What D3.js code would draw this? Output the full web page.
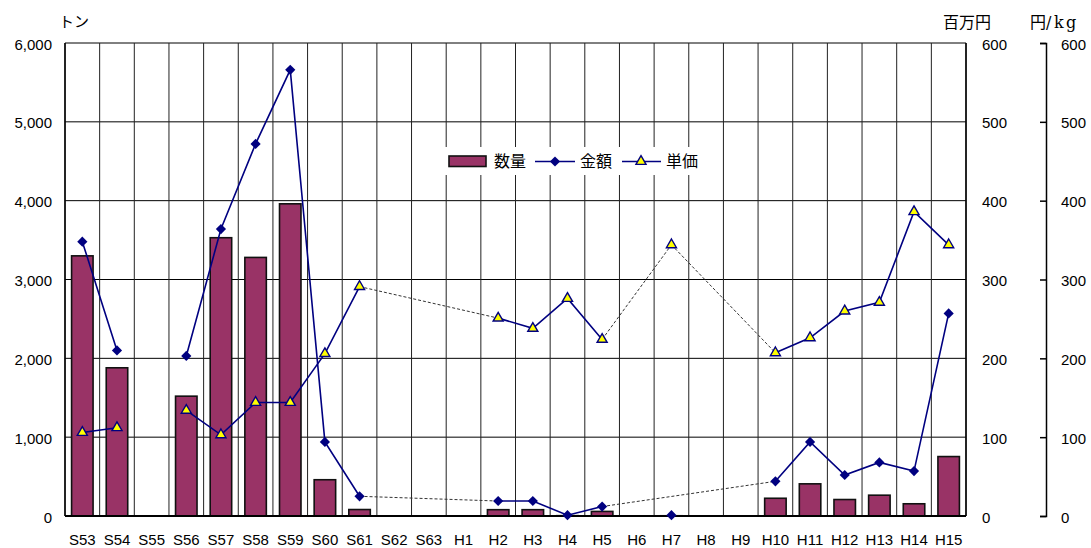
<!DOCTYPE html>
<html lang="ja">
<head>
<meta charset="utf-8">
<script src="https://cdn.jsdelivr.net/npm/d3@7"></script>
<style>
  html, body { margin: 0; padding: 0; background: #fff; }
  svg { display: block; }
  .num { font-family: "Liberation Sans", Arial, sans-serif; font-size: 15px; fill: #000; }
  .jp { font-family: "Noto Sans CJK JP", sans-serif; fill: #000; }
</style>
</head>
<body>
<svg id="chart" width="1091" height="548"></svg>
<script>
// 年度（昭和53年〜平成15年）
const categories = ["S53","S54","S55","S56","S57","S58","S59","S60","S61","S62","S63",
  "H1","H2","H3","H4","H5","H6","H7","H8","H9","H10","H11","H12","H13","H14","H15"];

// 数量（トン）
const quantity = [3300,1880,null,1520,3530,3280,3960,460,82,null,null,
  null,80,80,4,58,null,3,null,null,225,408,209,264,155,754];

// 金額（百万円）
const amount = [348,210,null,203,364,472,566,94,25,null,null,
  null,19,19,1,12,null,1,null,null,44,94,52,68,57,257];

// 単価（円/kg）
const price = [106,112,null,134,103,144,144,206,291,null,null,
  null,251,238,276,224,null,344,null,null,207,226,260,271,386,344];

// 欠測年をまたぐ破線の区間
const amountBridges = [["S61","H2"],["H5","H10"]];
const priceBridges = [["S61","H2"],["H5","H7"],["H7","H10"]];

const leftTicks = [0,1000,2000,3000,4000,5000,6000];
const rightTicks = [0,100,200,300,400,500,600];

const svg = d3.select("#chart");
const L = 65, R = 966, T = 43, B = 516;

const x = d3.scaleBand().domain(categories).range([L, R]).paddingInner(0).paddingOuter(0);
const yQ = d3.scaleLinear().domain([0, 6000]).range([B, T]);
const yY = d3.scaleLinear().domain([0, 600]).range([B, T]);
const cx = c => x(c) + x.bandwidth() / 2;

const navy = "#000080";

// 格子線
const grid = svg.append("g");
grid.selectAll("line.h").data(leftTicks).join("line")
  .attr("x1", L).attr("x2", R)
  .attr("y1", d => yQ(d)).attr("y2", d => yQ(d))
  .attr("stroke", "#000").attr("stroke-width", 1);
grid.selectAll("line.v").data(categories.concat([null])).join("line")
  .attr("x1", (d, i) => L + i * x.bandwidth()).attr("x2", (d, i) => L + i * x.bandwidth())
  .attr("y1", T).attr("y2", B)
  .attr("stroke", "#222").attr("stroke-width", 1);

// 凡例の背景
const legend = svg.append("g");
legend.append("rect").attr("x", 444).attr("y", 147).attr("width", 261).attr("height", 28).attr("fill", "#fff");

// 数量の棒
const bw = x.bandwidth() * 0.62;
const qData = categories.map((c, i) => ({ c, v: quantity[i] })).filter(d => d.v != null);
svg.append("g").selectAll("rect").data(qData).join("rect")
  .attr("x", d => cx(d.c) - bw / 2)
  .attr("width", bw)
  .attr("y", d => yQ(d.v))
  .attr("height", d => B - yQ(d.v))
  .attr("fill", "#993366")
  .attr("stroke", "#111")
  .attr("stroke-width", 1.6);

// 軸線
svg.append("line").attr("x1", L).attr("x2", L).attr("y1", T).attr("y2", B).attr("stroke", "#000").attr("stroke-width", 1.5);
svg.append("line").attr("x1", R).attr("x2", R).attr("y1", T).attr("y2", B).attr("stroke", "#000").attr("stroke-width", 1.5);
svg.append("line").attr("x1", L).attr("x2", R).attr("y1", B).attr("y2", B).attr("stroke", "#000").attr("stroke-width", 2);

// 破線（欠測区間）
function bridges(pairs, values, y) {
  const idx = c => categories.indexOf(c);
  svg.append("g").selectAll("line").data(pairs).join("line")
    .attr("x1", d => cx(d[0])).attr("y1", d => y(values[idx(d[0])]))
    .attr("x2", d => cx(d[1])).attr("y2", d => y(values[idx(d[1])]))
    .attr("stroke", "#333").attr("stroke-width", 1).attr("stroke-dasharray", "3,2");
}
bridges(amountBridges, amount, yY);
bridges(priceBridges, price, yY);

// 折れ線
function series(values, y) {
  const pts = categories.map((c, i) => ({ c, v: values[i] }));
  const line = d3.line().defined(d => d.v != null).x(d => cx(d.c)).y(d => y(d.v));
  svg.append("path").datum(pts).attr("d", line)
    .attr("fill", "none").attr("stroke", navy).attr("stroke-width", 1.6);
  return pts.filter(d => d.v != null);
}
const diamond = d3.symbol(d3.symbolSquare, 52);
const triangle = d3.symbol(d3.symbolTriangle, 44);

const aPts = series(amount, yY);
const pPts = series(price, yY);

svg.append("g").selectAll("path").data(aPts).join("path")
  .attr("d", diamond)
  .attr("transform", d => `translate(${cx(d.c)},${yY(d.v)}) rotate(45)`)
  .attr("fill", navy);

svg.append("g").selectAll("path").data(pPts).join("path")
  .attr("d", triangle)
  .attr("transform", d => `translate(${cx(d.c)},${yY(d.v)})`)
  .attr("fill", "#ffff00").attr("stroke", navy).attr("stroke-width", 1.4);

// 軸目盛
const axL = svg.append("g").attr("transform", `translate(${L},0)`)
  .call(d3.axisLeft(yQ).tickValues(leftTicks).tickFormat(d3.format(",")).tickSize(0).tickPadding(13));
const axR1 = svg.append("g").attr("transform", `translate(${R},0)`)
  .call(d3.axisRight(yY).tickValues(rightTicks).tickFormat(d3.format("d")).tickSize(0).tickPadding(16));
const axR2 = svg.append("g").attr("transform", `translate(1046,0)`)
  .call(d3.axisRight(yY).tickValues(rightTicks).tickFormat(d3.format("d")).tickSize(-6).tickPadding(15));
const axX = svg.append("g").attr("transform", `translate(0,${B})`)
  .call(d3.axisBottom(x).tickSize(0).tickPadding(18));

[axL, axR1, axX].forEach(a => a.select(".domain").remove());
[axL, axR1, axR2, axX].forEach(a => {
  a.attr("font-family", null).attr("font-size", null);
  a.selectAll("text").attr("class", "num").attr("dy", "0.4em");
});
axX.selectAll("text").attr("dy", "0.71em");
axR2.selectAll("line, .domain").attr("stroke", "#000").attr("stroke-width", 1.5);

// 軸タイトル
svg.append("text").attr("class", "jp").attr("x", 59).attr("y", 27).attr("font-size", 15).text("トン");
svg.append("text").attr("class", "jp").attr("x", 943).attr("y", 28).attr("font-size", 16).text("百万円");
const unit = svg.append("text").attr("class", "jp").attr("x", 1030).attr("y", 28).attr("font-size", 16);
unit.append("tspan").text("円");
unit.append("tspan").attr("font-family", "'DejaVu Serif', serif").attr("font-size", 16)
  .attr("letter-spacing", 2.5).text("/kg");

// 凡例
legend.raise();
const ly = 161.5;
legend.append("rect").attr("x", 449).attr("y", 156).attr("width", 37).attr("height", 10.5)
  .attr("fill", "#993366").attr("stroke", "#111").attr("stroke-width", 1.6);
legend.append("text").attr("class", "jp").attr("x", 494).attr("y", ly).attr("dy", "0.36em").attr("font-size", 16).text("数量");
legend.append("line").attr("x1", 535).attr("x2", 575).attr("y1", ly).attr("y2", ly).attr("stroke", navy).attr("stroke-width", 1.6);
legend.append("path").attr("d", diamond).attr("transform", `translate(555,${ly}) rotate(45)`).attr("fill", navy);
legend.append("text").attr("class", "jp").attr("x", 580).attr("y", ly).attr("dy", "0.36em").attr("font-size", 16).text("金額");
legend.append("line").attr("x1", 622).attr("x2", 661).attr("y1", ly).attr("y2", ly).attr("stroke", navy).attr("stroke-width", 1.6);
legend.append("path").attr("d", triangle).attr("transform", `translate(641,${ly})`)
  .attr("fill", "#ffff00").attr("stroke", navy).attr("stroke-width", 1.4);
legend.append("text").attr("class", "jp").attr("x", 666).attr("y", ly).attr("dy", "0.36em").attr("font-size", 16).text("単価");
</script>
</body>
</html>
